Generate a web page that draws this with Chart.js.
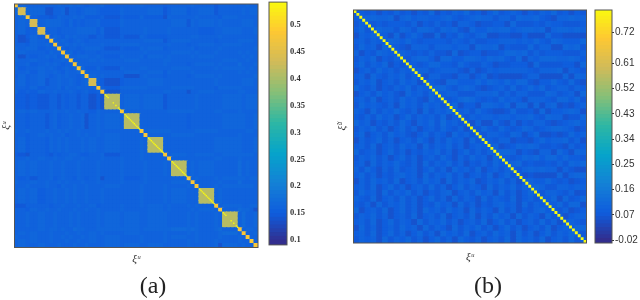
<!DOCTYPE html>
<html>
<head>
<meta charset="utf-8">
<script src="https://cdn.jsdelivr.net/npm/chart.js@4"></script>
<style>
    html, body { margin: 0; padding: 0; background: #fff; overflow: hidden; }
    body { width: 640px; height: 300px; position: relative; }
    canvas { position: absolute; }
</style>
</head>
<body>
<canvas id="heatA" width="306" height="300" style="left:0;top:0"></canvas>
<canvas id="barA" width="53" height="265" style="left:267px;top:-9px"></canvas>
<canvas id="heatB" width="304" height="300" style="left:336px;top:0"></canvas>
<canvas id="barB" width="45" height="253" style="left:593px;top:0"></canvas>
<script>
// parula, as the colorbars show it
const parula = [
    [53, 42, 135], [15, 92, 221], [20, 129, 214], [6, 164, 202], [46, 183, 164],
    [135, 191, 119], [209, 187, 89], [254, 200, 50], [249, 251, 14],
];

// panel (a): run of the diagonal blocks, in cells
const blockSizesA = [1, 2, 1, 2, 2, 1, 1, 1, 1, 1, 1, 1, 1, 1, 1, 1, 2, 1, 1, 4, 1, 4, 1, 1, 4, 1, 1, 4, 1, 1, 1, 4, 1, 1, 4, 1, 1, 1, 1, 1];
const blockValuesByRun = [0.48, 0.435, 0, 0.41]; // value of a block, by its run length
const offDigitsA = [0.12, 0.126, 0.132, 0.138, 0.144, 0.15, 0.156, 0.162, 0.168, 0.174];
// between-block levels, lower triangle, one digit per block pair
const offRowsA = [
    "7",
    "67",
    "676",
    "6756",
    "63575",
    "634765",
    "6657676",
    "76775666",
    "676665766",
    "6365676757",
    "76676656676",
    "667567676566",
    "7566767656767",
    "66757667657667",
    "575676567676657",
    "6756746676676567",
    "66575666757667666",
    "756576676667656756",
    "5545446646566466353",
    "6767666766766766576",
    "66566467566766736767",
    "767667667676676667666",
    "6656767667566767676766",
    "67566576767666767667667",
    "543665465667765566746676",
    "6676766766776676667676766",
    "67676676676667666766766767",
    "656466756766576567367567666",
    "7667676676766676676676676667",
    "66766766576676676667667667667",
    "676756676676766766766676676766",
    "4466665667666766756676767676767",
    "66576766766676676766766676766767",
    "667676676667676667676766776676767",
    "6666767767668776677777677778787678",
    "67676676667667667676676667667676678",
    "766766766767667676676676676766766767",
    "6767667666766766766766766766767676676",
    "67667666766676676667676676667666737676",
    "766766766766767667667676676667676676767",
];
const fineStartsA = [28, 34, 40, 47]; // big blocks with an unbroken bright diagonal
const fineOffsets = [0.17, 0.5, 0.83, 1.17, 1.5, 1.83, 2.17, 2.5, 2.83, 3.17, 3.5, 3.83];
const sparseStartsA = [23, 53]; // big blocks where only some of it shows
const sparseOffsets = [0.17, 0.5, 0.83, 2.17, 2.83, 3.5, 3.83];
const fineValueA = 0.54;
const tickValuesA = [0.1, 0.15, 0.2, 0.25, 0.3, 0.35, 0.4, 0.45, 0.5];
const tickLabelsA = ["0.1", "0.15", "0.2", "0.25", "0.3", "0.35", "0.4", "0.45", "0.5"];

// panel (b): 80 cells, off-diagonal levels read in 2x2 tiles
const cellsB = 80;
const diagValueB = 0.8;
const offDigitsB = [0.02, 0.032, 0.044, 0.056, 0.068, 0.08, 0.092, 0.104, 0.116, 0.13];
const offRowsB = [
    "5",
    "46",
    "574",
    "3657",
    "56465",
    "475637",
    "6354765",
    "46573546",
    "574657354",
    "3564756465",
    "56375465746",
    "465735647563",
    "7546354657465",
    "35647564375647",
    "564735647564375",
    "4756546375647564",
    "65374657546374657",
    "546475635746564735",
    "7563546475365748564",
    "46574635746356475463",
    "573564756435746537564",
    "3645746356475364756374",
    "56473564756374657463565",
    "745635746354657463574646",
    "4657463574635647536475637",
    "56374657546374657463546475",
    "647536474563574637564735646",
    "5746354675637465746356473574",
    "36475647356475637465734657463",
    "564735746356474635746537465746",
    "4756374657463546735647563746357",
    "65473564746357463746537465473564",
    "546374657463547563746354675637465",
    "7356473574637564756374653746354675",
    "46574635647356473564736475637465374",
    "564735746537465746356473574635647463",
    "3746356475637465374657463574635647356",
    "56473574635746375647356475637463574657",
    "465637465746357463754635647375647356474",
];
const tickValuesB = [-0.02, 0.07, 0.16, 0.25, 0.34, 0.43, 0.52, 0.61, 0.72];
const tickLabelsB = ["-0.02", "0.07", "0.16", "0.25", "0.34", "0.43", "0.52", "0.61", "0.72"];

const rangeA = [0.091, 0.542];
const rangeB = [-0.03, 0.8];
const bands = 64;

function colorFor(value, range) {
    const t = Math.min(1, Math.max(0, (value - range[0]) / (range[1] - range[0])));
    const pos = t * (parula.length - 1);
    const i = Math.min(parula.length - 2, Math.floor(pos));
    const f = pos - i;
    const c = parula[i].map((v, k) => Math.round(v + (parula[i + 1][k] - v) * f));
    return `rgb(${c[0]},${c[1]},${c[2]})`;
}

function lowerValue(rows, digits, i, j) {
    const hi = Math.max(i, j);
    const lo = Math.min(i, j);
    const row = rows[hi - 1];
    const d = lo < row.length ? Number(row[lo]) : 6;
    return digits[d];
}

// cells of panel (a)
const cellsA = [];
const starts = [];
blockSizesA.reduce((at, size) => { starts.push(at); return at + size; }, 0);
blockSizesA.forEach((sizeI, i) => {
    blockSizesA.forEach((sizeJ, j) => {
        const v = i === j ? blockValuesByRun[sizeI - 1] : lowerValue(offRowsA, offDigitsA, i, j);
        for (let a = 0; a < sizeI; a++) {
            for (let b = 0; b < sizeJ; b++) {
                cellsA.push({ x: starts[j] + b + 0.5, y: starts[i] + a + 0.5, v: v });
            }
        }
    });
});
const totalA = cellsA.length ** 0.5;

const fineA = [];
fineStartsA.forEach((s) => fineOffsets.forEach((o) => fineA.push({ x: s + o, y: s + o, v: fineValueA })));
sparseStartsA.forEach((s) => sparseOffsets.forEach((o) => fineA.push({ x: s + o, y: s + o, v: fineValueA })));

// cells of panel (b)
const gridB = [];
const diagB = [];
for (let i = 0; i < cellsB; i++) {
    diagB.push({ x: i + 0.5, y: i + 0.5, v: diagValueB });
    for (let j = 0; j < cellsB; j++) {
        const ti = Math.floor(i / 2);
        const tj = Math.floor(j / 2);
        const v = ti === tj ? offDigitsB[5] : lowerValue(offRowsB, offDigitsB, ti, tj);
        gridB.push({ x: j + 0.5, y: i + 0.5, v: v });
    }
}

// outline of the plot area
const framePlugin = {
    id: "frame",
    afterDraw(chart) {
        const { ctx, chartArea: a } = chart;
        ctx.save();
        ctx.strokeStyle = "#555";
        ctx.lineWidth = 1;
        ctx.strokeRect(a.left, a.top, a.right - a.left, a.bottom - a.top);
        ctx.restore();
    },
};

function cellRadius(ctx, extra) {
    const x = ctx.chart.scales.x;
    const side = x.getPixelForValue(1) - x.getPixelForValue(0);
    return (side + extra) * Math.SQRT1_2;
}

function heatChart(id, n, range, top, back, topSide, opt) {
    return new Chart(document.getElementById(id), {
        type: "scatter",
        plugins: [framePlugin],
        data: {
            datasets: [
                {
                    data: top,
                    pointStyle: "rect",
                    borderWidth: 0,
                    pointBorderWidth: 0,
                    pointRadius: topSide,
                    pointBackgroundColor: (c) => colorFor(c.raw.v, range),
                },
                {
                    data: back,
                    pointStyle: "rect",
                    pointBorderWidth: 0,
                    // later cells paint over the overlap, so no white seams show
                    pointRadius: (c) => cellRadius(c, 1.2),
                    pointBackgroundColor: (c) => colorFor(c.raw.v, range),
                },
            ],
        },
        options: {
            responsive: false,
            animation: false,
            events: [],
            layout: { padding: { left: 0, right: 0, top: opt.top, bottom: 1 } },
            plugins: {
                legend: { display: false },
                tooltip: { enabled: false },
                title: {
                    display: true,
                    position: "bottom",
                    text: opt.caption,
                    color: "#222",
                    padding: 0,
                    font: { family: "Liberation Serif", size: 24, weight: "normal", lineHeight: 1 },
                },
            },
            scales: {
                x: {
                    type: "linear",
                    min: 0,
                    max: n,
                    grid: { display: false },
                    border: { display: false },
                    ticks: { display: false },
                    afterFit: (s) => { s.height = opt.xHeight; },
                    title: {
                        display: true,
                        text: "ξᵘ",
                        color: "#333",
                        padding: { top: 0, bottom: opt.xPad },
                        font: { family: "Liberation Serif", size: 11, style: "italic", lineHeight: 1.1 },
                    },
                },
                y: {
                    type: "linear",
                    reverse: true,
                    min: 0,
                    max: n,
                    grid: { display: false },
                    border: { display: false },
                    ticks: { display: false },
                    afterFit: (s) => { s.width = opt.left; },
                    title: {
                        display: true,
                        text: opt.yLabel,
                        color: "#333",
                        padding: { top: 0, bottom: opt.yPad },
                        font: { family: "Liberation Serif", size: 11, style: "italic", lineHeight: 1.1 },
                    },
                },
                // keeps room for the colorbar so the caption centres on the whole panel
                room: {
                    position: "right",
                    grid: { display: false },
                    border: { display: false },
                    ticks: { display: false },
                    afterFit: (s) => { s.width = opt.right; },
                },
            },
        },
    });
}

function colorBar(id, range, tickValues, tickLabels, opt) {
    const sets = [];
    for (let i = 0; i < bands; i++) {
        const lo = range[0] + ((range[1] - range[0]) * i) / bands;
        const hi = range[0] + ((range[1] - range[0]) * (i + 1.3)) / bands;
        sets.push({
            data: [[lo, Math.min(hi, range[1])]],
            backgroundColor: colorFor((lo + hi) / 2, range),
            grouped: false,
            barPercentage: 1,
            categoryPercentage: 1,
            borderWidth: 0,
        });
    }
    return new Chart(document.getElementById(id), {
        type: "bar",
        plugins: [framePlugin],
        data: { labels: [""], datasets: sets },
        options: {
            responsive: false,
            animation: false,
            events: [],
            layout: { padding: { left: opt.padLeft, right: 0, top: opt.padTop, bottom: opt.padBottom } },
            plugins: { legend: { display: false }, tooltip: { enabled: false } },
            scales: {
                x: { display: false },
                y: {
                    position: "right",
                    min: range[0],
                    max: range[1],
                    border: { display: false },
                    grid: {
                        drawOnChartArea: false,
                        tickLength: opt.tickLength,
                        tickColor: "#333",
                        tickWidth: 1,
                    },
                    afterBuildTicks: (s) => { s.ticks = tickValues.map((v) => ({ value: v })); },
                    afterFit: (s) => { s.width = opt.axisWidth; },
                    ticks: {
                        autoSkip: false,
                        padding: opt.tickPad,
                        color: "#333",
                        font: opt.font,
                        callback: (v) => tickLabels[tickValues.indexOf(v)],
                    },
                },
            },
        },
    });
}

heatChart("heatA", totalA, rangeA, fineA, cellsA, 1.0, {
    caption: "(a)", yLabel: "ξᵘ", top: 1.5, left: 14.5, right: 48, xHeight: 27.5, xPad: 9.5, yPad: 0,
});
heatChart("heatB", cellsB, rangeB, diagB, gridB, (c) => cellRadius(c, 0), {
    caption: "(b)", yLabel: "ξ̃ᵘ", top: 10, left: 17.5, right: 53.5, xHeight: 32, xPad: 12, yPad: 1,
});

colorBar("barA", rangeA, tickValuesA, tickLabelsA, {
    padLeft: 2, padTop: 10, padBottom: 10, axisWidth: 33, tickLength: -3, tickPad: 6,
    font: { family: "Liberation Serif", size: 8.5, weight: "bold" },
});
colorBar("barB", rangeB, tickValuesB, tickLabelsB, {
    padLeft: 2, padTop: 10, padBottom: 10, axisWidth: 26, tickLength: 2, tickPad: 1,
    font: { family: "Liberation Sans", size: 10 },
});
</script>
</body>
</html>
